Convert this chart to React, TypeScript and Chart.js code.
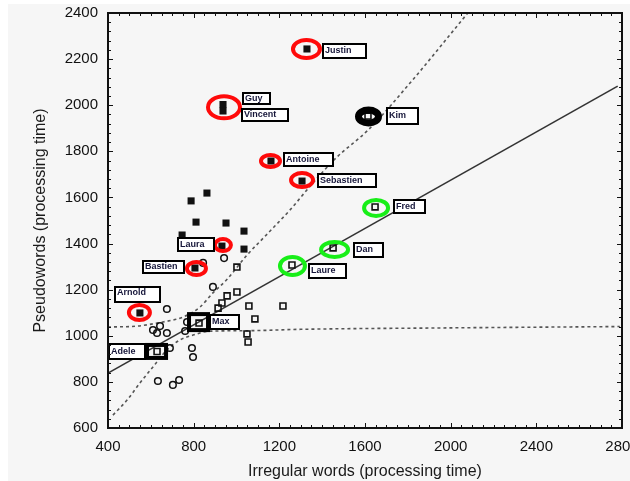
import React, { useEffect, useRef } from 'react';
import { Chart, registerables } from 'chart.js';

Chart.register(...registerables);

// ---- Axis ticks ----
const xMin = 400;
const xMax = 2800;
const xStep = 400;
const yMin = 600;
const yMax = 2400;
const yStep = 200;

// ---- Unlabelled filled squares ----
const filledX = [862, 788, 811, 951, 1035, 746, 1035];
const filledY = [1619, 1585, 1493, 1489, 1454, 1437, 1376];

// ---- Open circles ----
const circleX = [675, 610, 643, 629, 675, 760, 769, 689, 792, 797, 633, 703, 732, 890, 844, 942];
const circleY = [1116, 1025, 1042, 1012, 1012, 1021, 1060, 947, 947, 908, 804, 787, 808, 1212, 1316, 1337];

// ---- Unlabelled open squares ----
const openX = [1002, 1002, 956, 932, 914, 1058, 1217, 1086, 1049, 1054];
const openY = [1298, 1190, 1173, 1142, 1120, 1129, 1129, 1073, 1008, 973];

// ---- Named children ----
const namedPeople = ['Justin', 'Guy', 'Vincent', 'Antoine', 'Sebastien', 'Laura', 'Bastien', 'Arnold', 'Kim', 'Fred', 'Dan', 'Laure', 'Max', 'Adele'];
const namedX = [1329, 937, 937, 1161, 1306, 932, 806, 549, 1614, 1647, 1451, 1259, 825, 629];
const namedY = [2244, 2003, 1975, 1758, 1671, 1389, 1294, 1099, 1953, 1559, 1381, 1307, 1055, 932];
const namedGroup = ['filled', 'filled', 'filled', 'filled', 'filled', 'filled', 'filled', 'filled', 'open', 'open', 'open', 'open', 'open', 'open'];

// ---- Regression line ----
const regX = [400, 2780];
const regY = [838, 2083];

// ---- Dotted bands ----
const upperBandX = [400, 535, 657, 750, 830, 890, 956, 1049, 1142, 1250, 1357, 1469, 1614, 1810, 2080];
const upperBandY = [1038, 1042, 1060, 1081, 1125, 1186, 1245, 1350, 1440, 1546, 1663, 1775, 1892, 2096, 2400];
const lowerBandX = [423, 489, 549, 610, 675, 736, 797, 876, 1050, 1300, 1960, 2790];
const lowerBandY = [656, 721, 795, 865, 938, 982, 1003, 1020, 1022, 1028, 1034, 1040];

// ---- Annotation styling (pixel offsets, not data) ----
const RED = '#ff0a0a';
const GREEN = '#18ee18';
const BLACK = '#000000';

const highlights = [
  { members: ['Justin'], color: RED, dx: -0.5, dy: 0, rx: 13.5, ry: 9, lw: 4 },
  { members: ['Guy', 'Vincent'], color: RED, dx: 1, dy: -0.5, rx: 16, ry: 11, lw: 4 },
  { members: ['Antoine'], color: RED, dx: -0.5, dy: 0, rx: 9.5, ry: 6, lw: 4 },
  { members: ['Sebastien'], color: RED, dx: 0, dy: -1, rx: 11, ry: 7, lw: 4 },
  { members: ['Laura'], color: RED, dx: 1, dy: -1, rx: 8, ry: 6, lw: 4 },
  { members: ['Bastien'], color: RED, dx: 1.5, dy: 0.5, rx: 9.5, ry: 6.5, lw: 4 },
  { members: ['Arnold'], color: RED, dx: -0.5, dy: -0.5, rx: 10.5, ry: 7.5, lw: 4 },
  { members: ['Kim'], color: BLACK, dx: 0.5, dy: 0.5, rx: 10, ry: 6.5, lw: 7 },
  { members: ['Fred'], color: GREEN, dx: 1, dy: 1, rx: 12, ry: 8, lw: 4 },
  { members: ['Dan'], color: GREEN, dx: 1.5, dy: 1.5, rx: 13.5, ry: 7.5, lw: 4 },
  { members: ['Laure'], color: GREEN, dx: 0.5, dy: 1, rx: 12.5, ry: 9, lw: 4 },
];

const frames = [
  { name: 'Max', dx: -12, dy: -11, w: 23, h: 20, lw: 4 },
  { name: 'Adele', dx: -12, dy: -8.5, w: 23, h: 17, lw: 4 },
];

const labelBoxes = [
  { name: 'Justin', dx: 15, dy: -6, w: 45, h: 16 },
  { name: 'Guy', dx: 19, dy: -12.5, w: 29, h: 13 },
  { name: 'Vincent', dx: 18, dy: -3, w: 48, h: 14 },
  { name: 'Antoine', dx: 12, dy: -9, w: 51, h: 15 },
  { name: 'Sebastien', dx: 15, dy: -8, w: 60, h: 15 },
  { name: 'Laura', dx: -45, dy: -9, w: 38, h: 15 },
  { name: 'Bastien', dx: -53, dy: -8, w: 43, h: 14 },
  { name: 'Arnold', dx: -26, dy: -27, w: 47, h: 17, top: true },
  { name: 'Kim', dx: 18, dy: -9, w: 33, h: 18 },
  { name: 'Fred', dx: 18, dy: -8, w: 33, h: 15 },
  { name: 'Dan', dx: 20, dy: -6, w: 31, h: 16 },
  { name: 'Laure', dx: 16, dy: -2, w: 39, h: 16 },
  { name: 'Max', dx: 10, dy: -9, w: 31, h: 16 },
  { name: 'Adele', dx: -49, dy: -8.5, w: 38, h: 17 },
];

const toPts = (xs: number[], ys: number[]) => xs.map((x, i) => ({ x, y: ys[i] }));

const namedPts = (group: string) =>
  namedPeople
    .map((_, i) => i)
    .filter((i) => namedGroup[i] === group)
    .map((i) => ({ x: namedX[i], y: namedY[i] }));

const backgroundPlugin = {
  id: 'bg',
  beforeDraw(chart: any) {
    const { ctx, width, height } = chart;
    ctx.save();
    ctx.fillStyle = '#ffffff';
    ctx.fillRect(0, 0, width, height);
    ctx.fillStyle = '#f6f6f6';
    ctx.fillRect(8, 4, width - 8, height - 4);
    ctx.restore();
  },
};

const framePlugin = {
  id: 'frameTicks',
  afterDraw(chart: any) {
    const { ctx, chartArea } = chart;
    const { left, right, top, bottom } = chartArea;
    const xs = chart.scales.x;
    const ys = chart.scales.y;
    ctx.save();
    ctx.strokeStyle = '#111';
    ctx.lineWidth = 1;
    ctx.beginPath();
    for (let v = xMin; v <= xMax + 0.01; v += 50) {
      const p = Math.round(xs.getPixelForValue(v)) + 0.5;
      const len = (v - xMin) % xStep === 0 ? 5 : 3;
      ctx.moveTo(p, bottom);
      ctx.lineTo(p, bottom - len);
      ctx.moveTo(p, top);
      ctx.lineTo(p, top + len);
    }
    for (let v = yMin; v <= yMax + 0.01; v += 40) {
      const p = Math.round(ys.getPixelForValue(v)) + 0.5;
      const len = (v - yMin) % yStep === 0 ? 5 : 3;
      ctx.moveTo(left, p);
      ctx.lineTo(left + len, p);
      ctx.moveTo(right, p);
      ctx.lineTo(right - len, p);
    }
    ctx.stroke();
    ctx.lineWidth = 2;
    ctx.strokeStyle = '#111';
    ctx.strokeRect(left, top, right - left, bottom - top);
    ctx.restore();
  },
};

const annotationPlugin = {
  id: 'annot',
  afterDatasetsDraw(chart: any) {
    const { ctx } = chart;
    const xs = chart.scales.x;
    const ys = chart.scales.y;
    const pos = (name: string) => {
      const i = namedPeople.indexOf(name);
      return { x: xs.getPixelForValue(namedX[i]), y: ys.getPixelForValue(namedY[i]) };
    };
    ctx.save();
    highlights.forEach((h) => {
      const ps = h.members.map(pos);
      const cx = ps.reduce((s, p) => s + p.x, 0) / ps.length + h.dx;
      const cy = ps.reduce((s, p) => s + p.y, 0) / ps.length + h.dy;
      ctx.beginPath();
      ctx.ellipse(cx, cy, h.rx, h.ry, 0, 0, Math.PI * 2);
      ctx.strokeStyle = h.color;
      ctx.lineWidth = h.lw;
      ctx.stroke();
    });
    frames.forEach((f) => {
      const p = pos(f.name);
      ctx.strokeStyle = '#000';
      ctx.lineWidth = f.lw;
      ctx.strokeRect(p.x + f.dx + f.lw / 2, p.y + f.dy + f.lw / 2, f.w - f.lw, f.h - f.lw);
    });
    ctx.font = 'bold 9px Arial, "Liberation Sans", sans-serif';
    ctx.textAlign = 'left';
    ctx.textBaseline = 'middle';
    labelBoxes.forEach((b) => {
      const p = pos(b.name);
      const bx = Math.round(p.x + b.dx);
      const by = Math.round(p.y + b.dy);
      ctx.fillStyle = '#ffffff';
      ctx.fillRect(bx, by, b.w, b.h);
      ctx.strokeStyle = '#000';
      ctx.lineWidth = 2;
      ctx.strokeRect(bx + 1, by + 1, b.w - 2, b.h - 2);
      ctx.fillStyle = '#16163a';
      const ty = b.top ? by + 7 : by + b.h / 2;
      ctx.fillText(b.name, bx + 3, ty);
    });
    ctx.restore();
  },
};

export default function App() {
  const ref = useRef<HTMLCanvasElement | null>(null);

  useEffect(() => {
    document.body.style.margin = '0';
    document.body.style.overflow = 'hidden';
    const canvas = ref.current;
    if (!canvas) return;
    const tickFont = { family: 'Arial, "Liberation Sans", sans-serif', size: 15 };
    const titleFont = { family: 'Arial, "Liberation Sans", sans-serif', size: 16 };
    const plain = (v: any) => String(v);
    const chart = new Chart(canvas, {
      type: 'scatter',
      data: {
        datasets: [
          {
            label: 'Filled',
            data: [...toPts(filledX, filledY), ...namedPts('filled')],
            pointStyle: 'rect',
            pointRadius: 5,
            backgroundColor: '#111',
            borderColor: '#111',
            borderWidth: 0,
          },
          {
            label: 'Open squares',
            data: [...toPts(openX, openY), ...namedPts('open')],
            pointStyle: 'rect',
            pointRadius: 4.2,
            backgroundColor: 'rgba(255,255,255,0)',
            borderColor: '#111',
            borderWidth: 1.6,
          },
          {
            label: 'Circles',
            data: toPts(circleX, circleY),
            pointStyle: 'circle',
            pointRadius: 3.3,
            backgroundColor: 'rgba(255,255,255,0)',
            borderColor: '#111',
            borderWidth: 1.5,
          },
          {
            label: 'Regression',
            data: toPts(regX, regY),
            showLine: true,
            pointRadius: 0,
            borderColor: '#333',
            borderWidth: 1.6,
          },
          {
            label: 'Upper band',
            data: toPts(upperBandX, upperBandY),
            showLine: true,
            pointRadius: 0,
            borderColor: '#555',
            borderWidth: 1.6,
            borderDash: [3, 3],
            cubicInterpolationMode: 'monotone',
          },
          {
            label: 'Lower band',
            data: toPts(lowerBandX, lowerBandY),
            showLine: true,
            pointRadius: 0,
            borderColor: '#555',
            borderWidth: 1.6,
            borderDash: [3, 3],
            cubicInterpolationMode: 'monotone',
          },
        ],
      },
      options: {
        responsive: false,
        animation: false,
        layout: { padding: { left: 0, right: 8, top: 13, bottom: 0 } },
        plugins: { legend: { display: false }, tooltip: { enabled: false } },
        scales: {
          x: {
            type: 'linear',
            position: 'bottom',
            min: xMin,
            max: xMax,
            grid: { display: false, drawTicks: false },
            border: { display: false },
            ticks: { stepSize: xStep, padding: 10, font: tickFont, color: '#111', maxRotation: 0, autoSkip: false, callback: plain },
            title: { display: true, text: 'Irregular words (processing time)', font: titleFont, color: '#1a1a1a', padding: { top: 0, bottom: 0 } },
            afterFit: (s: any) => {
              s.height = 53;
              s.paddingLeft = 0;
              s.paddingRight = 0;
            },
          },
          y: {
            type: 'linear',
            min: yMin,
            max: yMax,
            grid: { display: false, drawTicks: false },
            border: { display: false },
            ticks: { stepSize: yStep, padding: 10, font: tickFont, color: '#111', autoSkip: false, callback: plain },
            title: { display: true, text: 'Pseudowords (processing time)', font: titleFont, color: '#1a1a1a', padding: { top: 31, bottom: 0 } },
            afterFit: (s: any) => {
              s.width = 108;
              s.paddingTop = 0;
              s.paddingBottom = 0;
            },
          },
        },
      } as any,
      plugins: [backgroundPlugin, annotationPlugin, framePlugin],
    });
    return () => chart.destroy();
  }, []);

  return (
    <div style={{ position: 'fixed', left: 0, top: 0, width: 630, height: 481, overflow: 'hidden', background: '#fff' }}>
      <canvas ref={ref} width={630} height={481} style={{ display: 'block', width: 630, height: 481 }} />
    </div>
  );
}
